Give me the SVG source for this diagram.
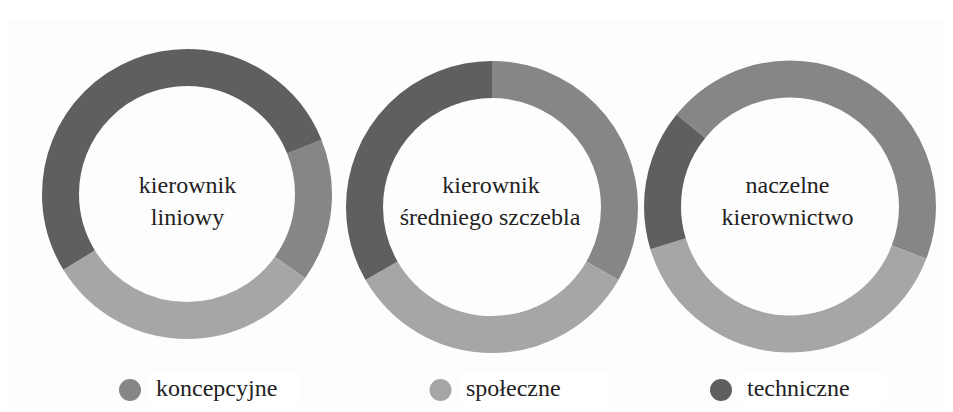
<svg xmlns="http://www.w3.org/2000/svg" width="953" height="412" viewBox="0 0 953 412">
  <style>
    .lbl { text-anchor: middle; }
    .seg { fill: none; }
    .k { stroke: #868686; }
    .s { stroke: #a6a6a6; }
    .t { stroke: #5f5f5f; }
    .dk { fill: #868686; }
    .ds { fill: #a6a6a6; }
    .dt { fill: #5f5f5f; }
  </style>
  <rect x="0" y="0" width="953" height="412" fill="#ffffff"/>
  <rect x="8" y="20" width="937" height="388" fill="#fdfdfd"/>

  <!-- all captions share one serif face -->
  <g font-family="Liberation Serif, DejaVu Serif, Noto Serif, serif" font-size="24" fill="#222222">

  <!-- ring segments drawn as dashed circles, pathLength = 360 degrees, starting at 12 o'clock -->
  <g id="donut-liniowy">
    <g transform="rotate(-90 187 194)" stroke-width="37">
      <circle class="seg k" cx="187" cy="194" r="126.5" pathLength="360" stroke-dasharray="57.5 302.5" stroke-dashoffset="-68"/>
      <circle class="seg s" cx="187" cy="194" r="126.5" pathLength="360" stroke-dasharray="113 247" stroke-dashoffset="-125.5"/>
      <circle class="seg t" cx="187" cy="194" r="126.5" pathLength="360" stroke-dasharray="189.5 170.5" stroke-dashoffset="-238.5"/>
    </g>
    <text class="lbl" x="187.5" y="193">kierownik</text>
    <text class="lbl" x="187.5" y="225">liniowy</text>
  </g>

  <g id="donut-sredni">
    <g transform="rotate(-90 492 207)" stroke-width="37">
      <circle class="seg k" cx="492" cy="207" r="127.5" pathLength="360" stroke-dasharray="120 240" stroke-dashoffset="0"/>
      <circle class="seg s" cx="492" cy="207" r="127.5" pathLength="360" stroke-dasharray="120 240" stroke-dashoffset="-120"/>
      <circle class="seg t" cx="492" cy="207" r="127.5" pathLength="360" stroke-dasharray="120 240" stroke-dashoffset="-240"/>
    </g>
    <text class="lbl" x="491" y="193">kierownik</text>
    <text class="lbl" x="490" y="225">średniego szczebla</text>
  </g>

  <g id="donut-naczelne">
    <g transform="rotate(-90 790 206.5)" stroke-width="37">
      <circle class="seg k" cx="790" cy="206.5" r="127.5" pathLength="360" stroke-dasharray="162 198" stroke-dashoffset="-309"/>
      <circle class="seg s" cx="790" cy="206.5" r="127.5" pathLength="360" stroke-dasharray="142 218" stroke-dashoffset="-111"/>
      <circle class="seg t" cx="790" cy="206.5" r="127.5" pathLength="360" stroke-dasharray="56 304" stroke-dashoffset="-253"/>
    </g>
    <text class="lbl" x="787.5" y="193">naczelne</text>
    <text class="lbl" x="787.5" y="225">kierownictwo</text>
  </g>

  <!-- legend -->
  <g id="legend">
    <g id="legend-koncepcyjne">
      <rect x="148" y="372" width="153" height="34" fill="#ffffff"/>
      <circle class="dk" cx="130" cy="390" r="11"/>
      <text x="156" y="396">koncepcyjne</text>
    </g>
    <g id="legend-spoleczne">
      <rect x="460" y="372" width="150" height="34" fill="#ffffff"/>
      <circle class="ds" cx="440.5" cy="390" r="11"/>
      <text x="466" y="396">społeczne</text>
    </g>
    <g id="legend-techniczne">
      <rect x="738" y="372" width="148" height="34" fill="#ffffff"/>
      <circle class="dt" cx="721" cy="390" r="11"/>
      <text x="747" y="396">techniczne</text>
    </g>
  </g>
  </g>
</svg>
